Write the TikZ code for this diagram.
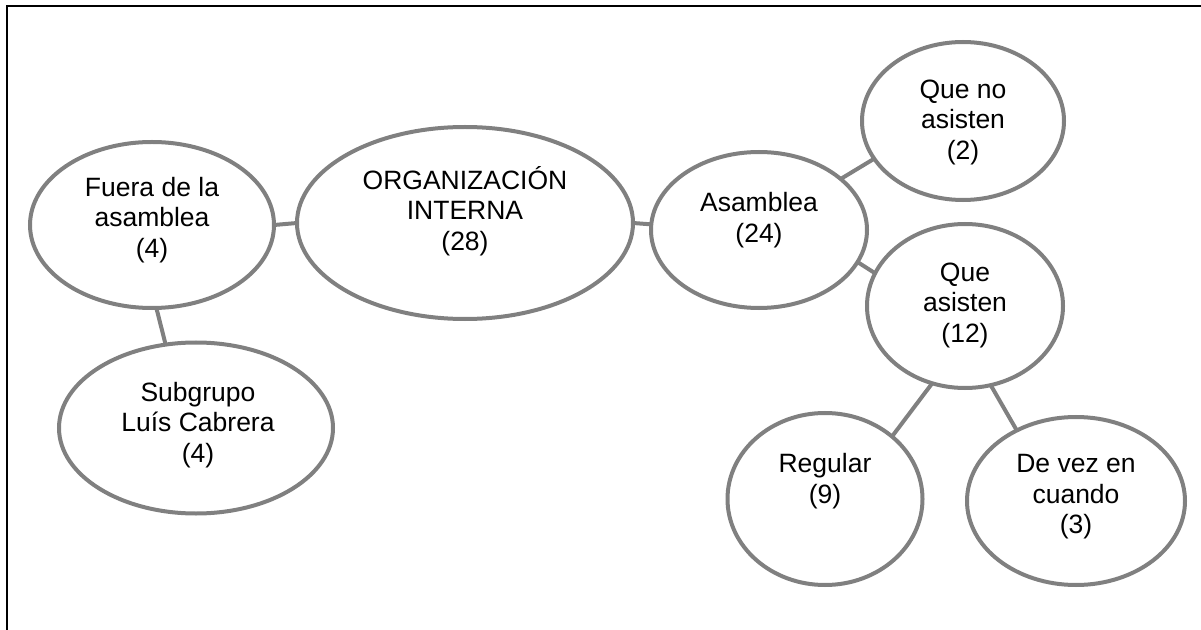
\documentclass[tikz,border=0pt]{standalone}
\usepackage{fontspec}
\setmainfont{Liberation Sans}
\usepackage{tikz}
\usetikzlibrary{calc,positioning,shapes}
\definecolor{gris}{RGB}{128,128,128}
\tikzset{
  burbuja/.style={
  ellipse,draw=gris,line width=4bp,fill=white,inner sep=0pt,outer sep=0pt
  },
  texto/.style={
  text=black,align=center,inner sep=0pt,font=\fontsize{26.5bp}{30.5bp}\selectfont
  },
  enlace/.style={draw=gris, line width=4bp},
  marco/.style={draw=black, line width=2bp},
}

\begin{document}
\begin{tikzpicture}[x=1bp,y=-1bp]
    \useasboundingbox (0,0) rectangle (1201,630);
    \path[marco] (7,640) -- (7,6) -- (1210,6);

    % left side
    \node[burbuja,minimum width=244bp,minimum height=166bp] (fuera) at (152,225) {};
    \node[burbuja,minimum width=336bp,minimum height=192bp] (org) at (465,223) {};
    \node[burbuja,minimum width=274bp,minimum height=171bp] (sub) at (196,428) {};

    % right side
    \node[burbuja,minimum width=216bp,minimum height=156bp] (asam) at (759,230) {};
    \node[burbuja,minimum width=202bp,minimum height=158bp] (queno) at (963,121) {};
    \node[burbuja,minimum width=196bp,minimum height=164bp] (quesi) at (965,306) {};
    \node[burbuja,minimum width=195bp,minimum height=172bp] (regular) at (825,499) {};
    \node[burbuja,minimum width=218bp,minimum height=168bp] (devez) at (1076,501) {};

    \node[texto] (fuera-t) at (152,220) {Fuera de la\\asamblea\\(4)};
    \node[texto] (org-t) at (465,211) {ORGANIZACIÓN\\INTERNA\\(28)};
    \node[texto] (sub-t) at (198,425) {Subgrupo\\Luís Cabrera\\(4)};
    \node[texto] (asam-t) at (759,220) {Asamblea\\(24)};
    \node[texto] (queno-t) at (963,122) {Que no\\asisten\\(2)};
    \node[texto] (quesi-t) at (965,305) {Que\\asisten\\(12)};
    \node[texto] (regular-t) at (825,481) {Regular\\(9)};
    \node[texto] (devez-t) at (1076,497) {De vez en\\cuando\\(3)};

    \begin{scope} [every path/.style=enlace]
      \path (fuera.east) -- (org.west);
      \path (fuera.-87) -- (sub.110);
      \path (org.east) -- (asam.177);

      \path (asam.32) -- (queno.203);
      \path (asam.-18) -- (quesi.160);
      \path (quesi.247) -- (regular.43);
      \path (quesi.-72) -- (devez.130);
    \end{scope}
\end{tikzpicture}
\end{document}
